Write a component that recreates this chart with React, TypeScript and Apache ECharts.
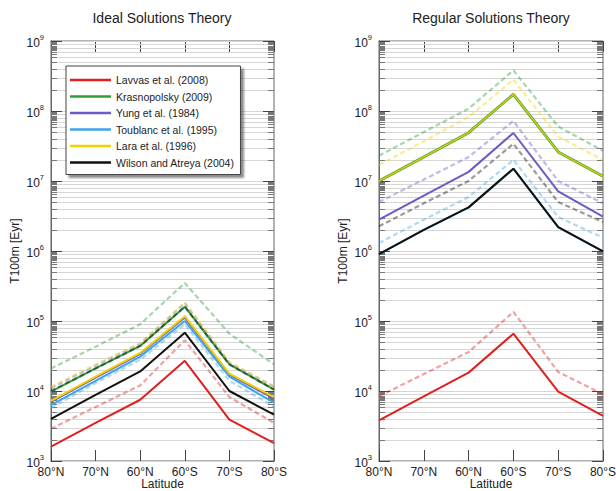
import React, { useEffect, useRef } from 'react';
import * as echarts from 'echarts';

const categories = ['80°N', '70°N', '60°N', '60°S', '70°S', '80°S'];
const panelTitles = ['Ideal Solutions Theory', 'Regular Solutions Theory'];
const modelNames = [
  'Lavvas et al. (2008)',
  'Krasnopolsky (2009)',
  'Yung et al. (1984)',
  'Toublanc et al. (1995)',
  'Lara et al. (1996)',
  'Wilson and Atreya (2004)',
];
const modelColors = ['#e0201e', '#2f9e3a', '#6b5bc4', '#3fa4ec', '#f2d100', '#111111'];

// Ideal solutions theory (left panel)
const idealLavvas = [1.6e3, 3.5e3, 7.5e3, 2.7e4, 3.9e3, 1.8e3];
const idealLavvasAlt = [2.9e3, 5.9e3, 1.2e4, 5.3e4, 8.2e3, 3.5e3];
const idealKrasnopolsky = [9.8e3, 2.1e4, 4.4e4, 1.6e5, 2.4e4, 1.05e4];
const idealKrasnopolskyAlt = [2.1e4, 4.3e4, 9.0e4, 3.5e5, 6.6e4, 2.4e4];
const idealYung = [7.0e3, 1.55e4, 3.4e4, 1.12e5, 1.72e4, 7.8e3];
const idealYungAlt = [1.1e4, 2.3e4, 4.7e4, 1.8e5, 2.5e4, 1.15e4];
const idealToublanc = [6.3e3, 1.4e4, 3.1e4, 1.0e5, 1.6e4, 6.8e3];
const idealToublancAlt = [5.7e3, 1.3e4, 2.8e4, 9.0e4, 1.4e4, 6.0e3];
const idealLara = [7.2e3, 1.6e4, 3.5e4, 1.17e5, 1.77e4, 8.2e3];
const idealLaraAlt = [1.15e4, 2.4e4, 4.8e4, 1.85e5, 2.6e4, 1.17e4];
const idealWilson = [4.0e3, 8.8e3, 1.9e4, 6.8e4, 1.0e4, 4.6e3];
const idealWilsonAlt = [1.0e4, 2.1e4, 4.4e4, 1.6e5, 2.4e4, 1.05e4];

// Regular solutions theory (right panel)
const regularLavvas = [3.8e3, 8.4e3, 1.83e4, 6.6e4, 9.8e3, 4.4e3];
const regularLavvasAlt = [8.4e3, 1.75e4, 3.6e4, 1.35e5, 1.87e4, 9.0e3];
const regularKrasnopolsky = [1.0e7, 2.2e7, 4.9e7, 1.73e8, 2.6e7, 1.17e7];
const regularKrasnopolskyAlt = [2.3e7, 5.0e7, 1.08e8, 3.8e8, 6.0e7, 2.7e7];
const regularYung = [2.8e6, 6.2e6, 1.35e7, 4.85e7, 7.1e6, 3.1e6];
const regularYungAlt = [5.0e6, 1.05e7, 2.2e7, 7.2e7, 1.0e7, 4.8e6];
const regularToublanc = [9.0e5, 2.0e6, 4.2e6, 1.5e7, 2.2e6, 9.9e5];
const regularToublancAlt = [1.3e6, 2.8e6, 5.9e6, 2.0e7, 3.06e6, 1.55e6];
const regularLara = [1.0e7, 2.2e7, 4.9e7, 1.73e8, 2.6e7, 1.17e7];
const regularLaraAlt = [1.7e7, 3.7e7, 8.2e7, 2.8e8, 4.3e7, 2.0e7];
const regularWilson = [9.0e5, 2.0e6, 4.2e6, 1.5e7, 2.2e6, 9.9e5];
const regularWilsonAlt = [2.25e6, 4.8e6, 1.0e7, 3.4e7, 5.0e6, 2.6e6];

const yMin = 1e3;
const yMax = 1e9;
const decadeExponents = [3, 4, 5, 6, 7, 8, 9];
const minorFactors = [2, 3, 4, 5, 6, 7, 8, 9];
const combFactors = [0.66, 0.7, 0.74, 0.78, 0.82, 0.86, 0.9, 0.93, 0.96];

const FONT = '"Liberation Sans", Arial, Helvetica, sans-serif';

const idealSolid = [idealLavvas, idealKrasnopolsky, idealYung, idealToublanc, idealLara, idealWilson];
const idealAlt = [idealLavvasAlt, idealKrasnopolskyAlt, idealYungAlt, idealToublancAlt, idealLaraAlt, idealWilsonAlt];
const regularSolid = [regularLavvas, regularKrasnopolsky, regularYung, regularToublanc, regularLara, regularWilson];
const regularAlt = [regularLavvasAlt, regularKrasnopolskyAlt, regularYungAlt, regularToublancAlt, regularLaraAlt, regularWilsonAlt];

function buildGridData() {
  const out: number[][] = [];
  decadeExponents.forEach((e) => {
    out.push([0, Math.pow(10, e), 1]);
    if (e < 9) minorFactors.forEach((f) => out.push([0, f * Math.pow(10, e), 0]));
    if (e > 3) combFactors.forEach((f) => out.push([0, f * Math.pow(10, e), 2]));
  });
  return out;
}

function gridSeries(idx: number) {
  return {
    type: 'custom',
    xAxisIndex: idx,
    yAxisIndex: idx,
    silent: true,
    z: 1,
    data: buildGridData(),
    renderItem: (params: any, api: any) => {
      const cs = params.coordSys;
      const y = Math.round(api.coord([0, api.value(1)])[1]) + 0.5;
      const kind = api.value(2);
      const children: any[] = [];
      if (kind !== 2) {
        children.push({
          type: 'line',
          shape: { x1: cs.x, y1: y, x2: cs.x + cs.width, y2: y },
          style: { stroke: '#d6d6d6', lineWidth: 1 },
        });
      }
      const len = kind === 1 ? 11 : 6;
      const tc = kind === 1 ? '#444' : '#777';
      children.push({
        type: 'line',
        shape: { x1: cs.x, y1: y, x2: cs.x + len, y2: y },
        style: { stroke: tc, lineWidth: 1 },
      });
      children.push({
        type: 'line',
        shape: { x1: cs.x + cs.width - len, y1: y, x2: cs.x + cs.width, y2: y },
        style: { stroke: tc, lineWidth: 1 },
      });
      return { type: 'group', children };
    },
  };
}

function lineSeries(idx: number, name: string, color: string, data: number[], dashed: boolean, extra: any = {}) {
  return {
    type: 'line',
    name,
    xAxisIndex: idx,
    yAxisIndex: idx,
    data,
    color,
    symbol: 'none',
    showSymbol: false,
    silent: true,
    z: 3,
    itemStyle: { color },
    lineStyle: dashed
      ? { color, width: 2.2, type: [5, 3], opacity: 0.42 }
      : { color, width: 2, ...(extra.lineStyle || {}) },
  };
}

function panelSeries(idx: number, solids: number[][], alts: number[][], oliveOverlap: boolean) {
  const s: any[] = [gridSeries(idx)];
  solids.forEach((d, i) => {
    let extra: any = {};
    if (oliveOverlap && i === 1) extra = { lineStyle: { width: 2.8 } };
    if (oliveOverlap && i === 4) extra = { lineStyle: { width: 1.6, opacity: 0.85 } };
    s.push(lineSeries(idx, modelNames[i], modelColors[i], d, false, extra));
  });
  alts.forEach((d, i) => {
    s.push(lineSeries(idx, modelNames[i] + ' range', modelColors[i], d, true));
  });
  return s;
}

export default function App() {
  const ref = useRef<HTMLDivElement>(null);

  useEffect(() => {
    if (!ref.current) return;
    const chart = echarts.init(ref.current, undefined, { renderer: 'svg' });

    const gridLefts = [51, 379];
    const gridWidths = [223, 224];
    const titleCenters = [162, 491];

    const xAxes: any[] = [];
    const yAxes: any[] = [];
    [0, 1].forEach((i) => {
      xAxes.push({
        type: 'category',
        gridIndex: i,
        data: categories,
        boundaryGap: false,
        position: 'bottom',
        name: 'Latitude',
        nameLocation: 'middle',
        nameGap: 16,
        nameMoveOverlap: false,
        nameTextStyle: { fontSize: 12, fontFamily: FONT, color: '#222', lineHeight: 13 },
        axisLine: { show: true, lineStyle: { color: '#666', width: 1 } },
        axisTick: { show: true, inside: true, length: 11, lineStyle: { color: '#444' } },
        axisLabel: { fontSize: 12, fontFamily: FONT, color: '#222', margin: 5 },
        splitLine: { show: false },
      });
    });
    [0, 1].forEach((i) => {
      xAxes.push({
        type: 'category',
        gridIndex: i,
        data: categories,
        boundaryGap: false,
        position: 'top',
        axisLine: { show: true, lineStyle: { color: '#666', width: 1 } },
        axisTick: { show: true, inside: true, length: 11, lineStyle: { color: '#444' } },
        axisLabel: { show: false },
        splitLine: { show: false },
      });
    });
    [0, 1].forEach((i) => {
      yAxes.push({
        type: 'log',
        logBase: 10,
        gridIndex: i,
        min: yMin,
        max: yMax,
        interval: 1,
        name: 'T100m [Eyr]',
        nameLocation: 'middle',
        nameGap: 30,
        nameMoveOverlap: false,
        nameTextStyle: { fontSize: 12, fontFamily: FONT, color: '#222' },
        axisLine: { show: true, lineStyle: { color: '#666', width: 1 } },
        axisTick: { show: false },
        splitLine: { show: false },
        axisLabel: {
          margin: 7,
          formatter: (v: number) => `{b|10}{s|${Math.round(Math.log10(v))}}`,
          rich: {
            b: { fontSize: 12, fontFamily: FONT, color: '#222', lineHeight: 16, verticalAlign: 'bottom' },
            s: { fontSize: 7.5, fontFamily: FONT, color: '#222', lineHeight: 16, verticalAlign: 'top' },
          },
        },
      });
    });

    const option: any = {
      animation: false,
      backgroundColor: '#ffffff',
      grid: [0, 1].map((i) => ({
        left: gridLefts[i],
        top: 41,
        width: gridWidths[i],
        height: 420,
        outerBoundsMode: 'none',
        containLabel: false,
        show: true,
        borderColor: '#666',
        borderWidth: 1,
        backgroundColor: 'transparent',
      })),
      xAxis: xAxes,
      yAxis: yAxes,
      legend: {
        data: modelNames,
        orient: 'vertical',
        left: 66,
        top: 66,
        padding: [8, 6, 6, 4],
        itemGap: 4.5,
        itemWidth: 41,
        itemHeight: 2.5,
        icon: 'rect',
        selectedMode: false,
        backgroundColor: '#ffffff',
        borderColor: '#444',
        borderWidth: 1,
        shadowBlur: 2,
        shadowColor: 'rgba(0,0,0,0.45)',
        shadowOffsetX: 3,
        shadowOffsetY: 3,
        textStyle: { fontSize: 10.5, fontFamily: FONT, color: '#222', lineHeight: 12 },
      },
      graphic: [0, 1].map((i) => ({
        type: 'text',
        x: titleCenters[i],
        y: 17.5,
        style: {
          text: panelTitles[i],
          fontSize: 14,
          fontFamily: FONT,
          fill: '#222',
          align: 'center',
          verticalAlign: 'middle',
        },
      })),
      series: [
        ...panelSeries(0, idealSolid, idealAlt, false),
        ...panelSeries(1, regularSolid, regularAlt, true),
      ],
    };

    chart.setOption(option);
    return () => chart.dispose();
  }, []);

  return (
    <div
      ref={ref}
      style={{ position: 'absolute', left: 0, top: 0, width: 616, height: 491, background: '#fff' }}
    />
  );
}
